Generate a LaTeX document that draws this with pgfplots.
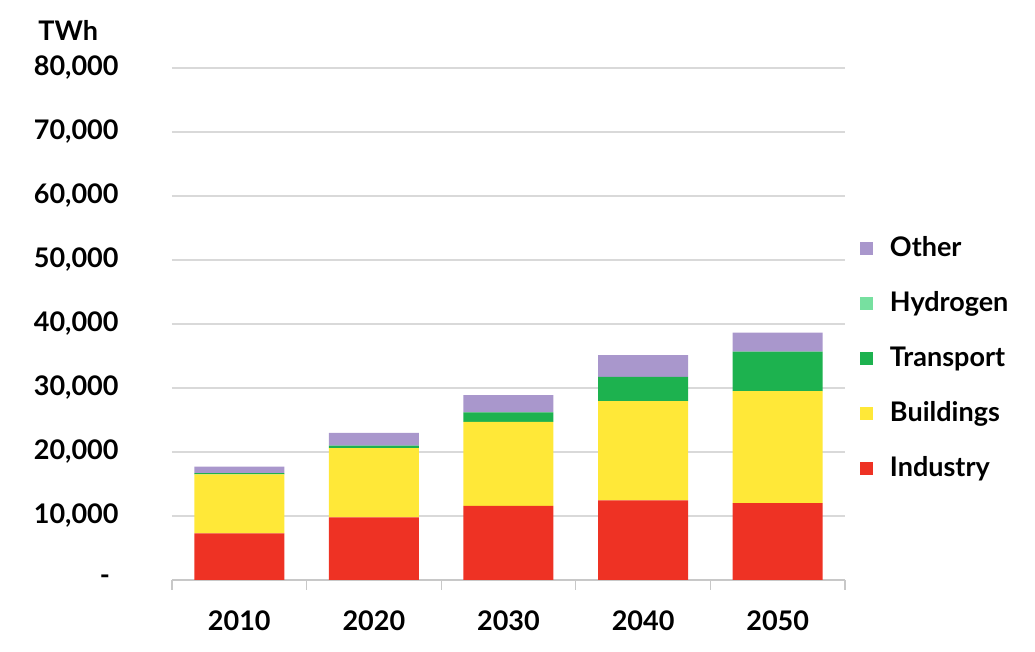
\documentclass[border=0pt]{standalone}
\usepackage{fontspec}
\setmainfont{Lato}
\usepackage{pgfplots}
\pgfplotsset{compat=1.18}

\definecolor{industry}{RGB}{238,50,36}
\definecolor{buildings}{RGB}{255,232,56}
\definecolor{transport}{RGB}{29,178,79}
\definecolor{hydrogen}{RGB}{119,224,160}
\definecolor{other}{RGB}{169,151,204}
\definecolor{gridgray}{RGB}{217,217,217}
\definecolor{axisgray}{RGB}{200,200,200}

\begin{document}
\begin{tikzpicture}[font=\fontsize{13.5}{16}\selectfont\bfseries]
\path[use as bounding box] (0,0) rectangle (517.5pt,326pt);
\begin{axis}[
  at={(86pt,36pt)}, anchor=south west,
  scale only axis, width=336.5pt, height=256pt,
  ybar stacked, bar width=45pt,
  xmin=-0.5, xmax=4.5, ymin=0, ymax=80000,
  xtick={0,1,2,3,4},
  xticklabels={2010,2020,2030,2040,2050},
  major x tick style={draw=none},
  minor xtick={-0.5,0.5,1.5,2.5,3.5,4.5},
  minor tick length=5pt,
  tick align=outside,
  minor x tick style={axisgray, line width=0.6pt},
  xticklabel style={anchor=base, yshift=-21pt},
  scaled y ticks=false,
  ytick={0,10000,...,80000},
  yticklabels={\hspace{33pt}-,{10,000},{20,000},{30,000},{40,000},{50,000},{60,000},{70,000},{80,000}},
  yticklabel style={anchor=west, inner sep=0pt, xshift=-65pt},
  ytick style={draw=none},
  ymajorgrids, grid style={gridgray, line width=0.8pt},
  axis x line*=bottom,
  axis y line*=left,
  x axis line style={draw=axisgray, line width=0.8pt, -},
  y axis line style={draw=none},
  clip=false,
  reverse legend,
  legend cell align=left,
  legend image code/.code={\fill[#1] (0pt,-3.25pt) rectangle (6.5pt,3.25pt);},
  legend style={at={(1.0223,0.702)}, anchor=north west, draw=none, fill=none,
    inner sep=0pt, outer sep=0pt, column sep=8.5pt,
    nodes={inner sep=0pt, minimum height=27.5pt, anchor=west}},
]
\addplot[fill=industry, draw=none] coordinates {(0,7300) (1,9800) (2,11600) (3,12450) (4,12000)};
\addplot[fill=buildings, draw=none] coordinates {(0,9200) (1,10800) (2,13100) (3,15500) (4,17500)};
\addplot[fill=transport, draw=none] coordinates {(0,200) (1,400) (2,1500) (3,3800) (4,6200)};
\addplot[fill=hydrogen, draw=none] coordinates {(0,0) (1,0) (2,0) (3,0) (4,0)};
\addplot[fill=other, draw=none] coordinates {(0,1000) (1,2000) (2,2700) (3,3400) (4,2950)};
\legend{Industry,Buildings,Transport,Hydrogen,Other}
\node[anchor=west, inner sep=0pt] at (rel axis cs:-0.199,1.074) {TWh};
\end{axis}
\end{tikzpicture}
\end{document}
